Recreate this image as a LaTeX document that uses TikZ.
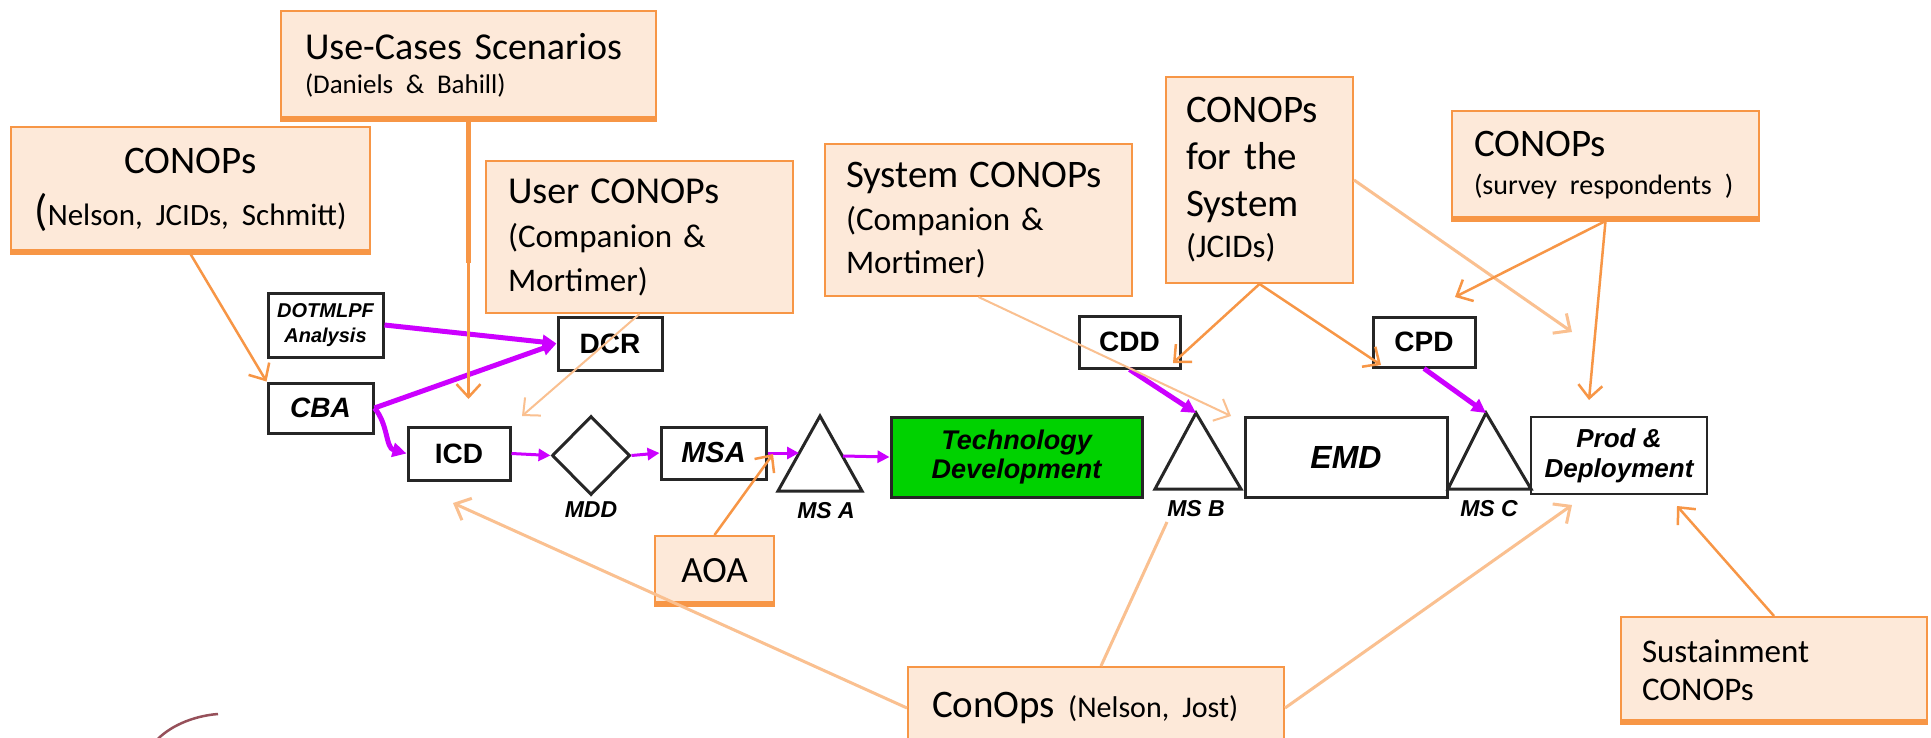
\documentclass[tikz,border=0pt]{standalone}
\usepackage{fontspec}
\setmainfont{Carlito}
\newfontfamily\arialf{Liberation Sans}
\usetikzlibrary{arrows.meta,shapes.geometric}
\newcommand\myfs[2]{\fontsize{#1}{#2}\selectfont}
\definecolor{ofill}{RGB}{253,233,217}
\definecolor{oline}{RGB}{247,150,70}
\definecolor{olight}{RGB}{250,192,144}
\definecolor{purp}{RGB}{204,0,255}
\definecolor{tgreen}{RGB}{0,210,0}
\definecolor{arcc}{RGB}{150,80,90}
\begin{document}
\begin{tikzpicture}[x=1pt,y=-1pt,
  callout/.style={draw=oline, fill=ofill, line width=2pt, rectangle, inner ysep=0pt, align=left},
  obot/.style={draw=oline, line width=6pt},
  bbox/.style={draw=black!85, line width=3pt, fill=white, inner sep=0pt, align=center,
    font=\arialf\bfseries\itshape\myfs{28}{30}},
  ubox/.style={bbox, font=\arialf\bfseries\myfs{28}{30}},
  tri/.style={draw=black!85, line width=3pt, fill=white, line join=miter},
  mslabel/.style={inner sep=0pt, font=\arialf\bfseries\itshape\myfs{23}{25}},
  pthick/.style={draw=purp, line width=5pt, -{Triangle[length=14pt,width=14pt]}},
  pthin/.style={draw=purp, line width=3pt, -{Triangle[length=12pt,width=12pt]}},
  odark/.style={draw=oline, line width=2.5pt, -{Straight Barb[length=13pt,width=24pt]}},
  olite/.style={draw=olight, line width=3pt, -{Straight Barb[length=13pt,width=24pt]}},
  oplain/.style={draw=olight, line width=3pt}
]
\useasboundingbox (0,0) rectangle (1931,738);
\clip (0,0) rectangle (1931,738);
\fill[white] (0,0) rectangle (1931,738);

% ---- callout boxes
\node[callout, minimum width=375pt, minimum height=109pt, text width=327pt, inner xsep=24pt, font=\myfs{38}{34}] (ucs) at (468.5,65.5)
  {\mbox{Use-Cases Scenarios}\\\mbox{\myfs{27}{34}(Daniels \& Bahill)}};
\node[callout, minimum width=359pt, minimum height=126pt, text width=339pt, inner xsep=10pt, align=center, font=\myfs{39}{52}] (lconops) at (190.5,190)
  {CONOPs\\\mbox{{\myfs{44}{52}(}\myfs{31}{52}Nelson, JCIDs, Schmitt)}};
\node[callout, minimum width=307pt, minimum height=152pt, text width=263pt, inner xsep=22pt, font=\myfs{33}{44}] (uconops) at (639.5,237)
  {\mbox{\myfs{38}{44}User CONOPs}\\\mbox{(Companion \&}\\Mortimer)};
\node[callout, minimum width=307pt, minimum height=152pt, text width=265pt, inner xsep=21pt, font=\myfs{33}{43}] (sconops) at (978.5,220)
  {\mbox{\myfs{39}{43}System CONOPs}\\\mbox{(Companion \&}\\Mortimer)};
\node[callout, minimum width=187pt, minimum height=206pt, text width=147pt, inner xsep=20pt, font=\myfs{39}{47}] (fconops) at (1259.5,180)
  {CONOPs\\\mbox{for the}\\System\\[-6pt]{\myfs{33}{47}(JCIDs)}};
\node[callout, minimum width=307pt, minimum height=109pt, text width=263pt, inner xsep=22pt, font=\myfs{39}{38}] (survey) at (1605.5,165.5)
  {CONOPs\\\mbox{\myfs{28}{38}(survey respondents )}};
\node[callout, minimum width=119pt, minimum height=69pt, inner xsep=0pt, align=center, font=\myfs{37}{40}] (aoa) at (714.5,570.5) {AOA};
\node[callout, minimum width=376pt, minimum height=82pt, text width=328pt, inner xsep=24pt, font=\myfs{39}{42}] (conops) at (1096,708)
  {\mbox{ConOps {\myfs{30}{42}(Nelson, Jost)}}};
\node[callout, minimum width=306pt, minimum height=106pt, text width=264pt, inner xsep=21pt, font=\myfs{33}{38}] (sust) at (1774,670)
  {Sustainment\\CONOPs};

\draw[obot] ([yshift=2pt]ucs.south west) -- ([yshift=2pt]ucs.south east);
\draw[obot] ([yshift=2pt]lconops.south west) -- ([yshift=2pt]lconops.south east);
\draw[obot] ([yshift=2pt]survey.south west) -- ([yshift=2pt]survey.south east);
\draw[obot] ([yshift=2pt]aoa.south west) -- ([yshift=2pt]aoa.south east);
\draw[obot] ([yshift=2pt]sust.south west) -- ([yshift=2pt]sust.south east);

% ---- process boxes
\node[bbox, minimum width=115pt, minimum height=64pt, font=\arialf\bfseries\itshape\myfs{20}{25}] (dotmlpf) at (325.5,325) {DOTMLPF\\Analysis};
\node[bbox, minimum width=105pt, minimum height=50pt] (cba) at (320.5,408) {CBA};
\node[ubox, minimum width=104pt, minimum height=53pt] (dcr) at (610,343.5) {DCR};
\node[ubox, minimum width=102pt, minimum height=53pt] (icd) at (459,453.5) {ICD};
\node[diamond, draw=black!85, line width=3pt, fill=white, minimum width=78pt, minimum height=79pt, inner sep=0pt] (mdd) at (591,455.5) {};
\node[bbox, minimum width=105pt, minimum height=52pt, font=\arialf\bfseries\itshape\myfs{29}{30}] (msa) at (713.5,453) {MSA};
\node[bbox, fill=tgreen, minimum width=251pt, minimum height=80pt, font=\arialf\bfseries\itshape\myfs{27}{29}] (td) at (1016.5,457) {Technology\\Development};
\node[bbox, minimum width=202pt, minimum height=80pt, font=\arialf\bfseries\itshape\myfs{32}{33}] (emd) at (1346,457) {EMD};
\node[bbox, line width=2.5pt, minimum width=176pt, minimum height=77pt, font=\arialf\bfseries\itshape\myfs{26}{30}] (pd) at (1619,455.5) {Prod \&\\Deployment};
\node[ubox, minimum width=101pt, minimum height=52pt, font=\arialf\bfseries\myfs{28}{30}] (cdd) at (1129.5,342) {CDD};
\node[ubox, minimum width=102pt, minimum height=50pt, font=\arialf\bfseries\myfs{28}{30}] (cpd) at (1424,342) {CPD};

% ---- milestone triangles
\coordinate (msAtop) at (820,416); \coordinate (msAl) at (778,491); \coordinate (msAr) at (862,491);
\coordinate (msBtop) at (1196,413); \coordinate (msBl) at (1155,489); \coordinate (msBr) at (1241,489);
\coordinate (msCtop) at (1486,413); \coordinate (msCl) at (1448,489); \coordinate (msCr) at (1531,489);
\draw[tri] (msAl) -- (msAtop) -- (msAr) -- cycle;
\draw[tri] (msBl) -- (msBtop) -- (msBr) -- cycle;
\draw[tri] (msCl) -- (msCtop) -- (msCr) -- cycle;
\coordinate (msAin) at (799,453);
\coordinate (msAout) at (843,456);

\node[mslabel] (mddl) at (591,510) {MDD};
\node[mslabel] (msAl2) at (826,511) {MS A};
\node[mslabel] (msBl2) at (1196,509) {MS B};
\node[mslabel] (msCl2) at (1489,509) {MS C};

% ---- purple flow
\draw[pthick] (dotmlpf.east) -- (dcr.west);
\draw[pthick] (cba.east) -- (dcr.west);
\draw[pthick] (cba.east) to[out=-50,in=165] (icd.west);
\draw[pthin] (icd.east) -- (mdd.west);
\draw[pthin] (mdd.east) -- (msa.west);
\draw[pthin] (msa.east) -- (msAin);
\draw[pthin] (msAout) -- (td.west);
\draw[pthick] (cdd.south) -- (msBtop);
\draw[pthick] (cpd.south) -- (msCtop);

% ---- orange pointers
\coordinate (ucsmid) at (468.5,263);
\coordinate (eA) at (468.5,399);
\coordinate (eB) at (522,416);
\coordinate (eC) at (773,454);
\coordinate (eD) at (453,503);
\coordinate (eE) at (1167,522);
\coordinate (eF) at (1572,505);
\coordinate (eG) at (1677,506);
\coordinate (eH) at (1231,416);
\coordinate (eI) at (1572,332);
\coordinate (eJ) at (1455,297);
\coordinate (eK) at (1589,400);
\coordinate (eL) at (1173,363);
\coordinate (eM) at (1381,365);

\draw[odark] (lconops.south) -- (cba.north west);
\draw[draw=oline, line width=5pt] (ucs.south) -- (ucsmid);
\draw[odark] (ucs.south) -- (eA);
\draw[olite, line width=2pt] (uconops.south) -- (eB);
\draw[odark] (aoa.north) -- (eC);
\draw[olite] (conops.west) -- (eD);
\draw[oplain] ([xshift=5pt]conops.north) -- (eE);
\draw[olite] (conops.east) -- (eF);
\draw[odark] (sust.north) -- (eG);
\draw[olite, line width=2pt] (sconops.south) -- (eH);
\draw[odark] (fconops.south) -- (eL);
\draw[odark] (fconops.south) -- (eM);
\draw[olite] (fconops.east) -- (eI);
\draw[odark] (survey.south) -- (eJ);
\draw[odark] (survey.south) -- (eK);

% ---- logo fragment
\draw[arcc, line width=2.5pt] (218,714) .. controls (192,716) and (168,727) .. (155,742);
\end{tikzpicture}
\end{document}
